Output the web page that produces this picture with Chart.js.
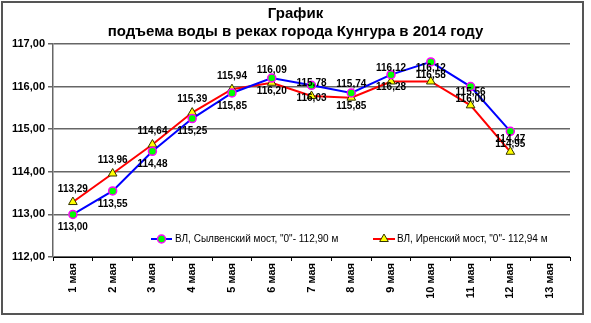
<!DOCTYPE html>
<html>
<head>
<meta charset="utf-8">
<script src="https://cdn.jsdelivr.net/npm/chart.js@4"></script>
<style>
  html, body { margin: 0; padding: 0; background: #fff; }
  canvas { display: block; }
</style>
</head>
<body>
<canvas id="water-chart" width="591" height="323"></canvas>
<script>
const days = ['1 мая', '2 мая', '3 мая', '4 мая', '5 мая', '6 мая', '7 мая',
              '8 мая', '9 мая', '10 мая', '11 мая', '12 мая', '13 мая'];
const sylvaLevels = [113.00, 113.55, 114.48, 115.25, 115.85, 116.20, 116.03,
                     115.85, 116.28, 116.58, 116.00, 114.95, null];
const irenLevels = [113.29, 113.96, 114.64, 115.39, 115.94, 116.09, 115.78,
                    115.74, 116.12, 116.12, 115.56, 114.47, null];
const sylvaName = 'ВЛ, Сылвенский мост, "0"- 112,90 м';
const irenName = 'ВЛ, Иренский мост, "0"- 112,94 м';
const titleLines = ['График', 'подъема воды в реках города Кунгура в 2014 году'];

const FONT = 'Arial, "Liberation Sans", sans-serif';
const fmt = v => v.toFixed(2).replace('.', ',');

// white background + grey frame around the whole chart
const framePlugin = {
    id: 'frame',
    beforeDraw(chart) {
        const ctx = chart.ctx;
        ctx.save();
        ctx.fillStyle = '#fff';
        ctx.fillRect(0, 0, chart.width, chart.height);
        ctx.strokeStyle = '#555';
        ctx.lineWidth = 2;
        ctx.strokeRect(2, 2, 581, 312);
        ctx.restore();
    }
};

// value labels: Irenskiy above its points, Sylvenskiy below
const valueLabels = {
    id: 'valueLabels',
    afterDatasetsDraw(chart) {
        const ctx = chart.ctx;
        ctx.save();
        ctx.font = 'bold 10px ' + FONT;
        ctx.fillStyle = '#000';
        ctx.textAlign = 'center';
        ctx.textBaseline = 'middle';
        chart.data.datasets.forEach((ds, di) => {
            const meta = chart.getDatasetMeta(di);
            const dy = di === 0 ? 13 : -13;
            meta.data.forEach((pt, i) => {
                const v = ds.data[i];
                if (v === null || v === undefined) return;
                ctx.fillText(fmt(v), pt.x, pt.y + dy);
            });
        });
        ctx.restore();
    }
};

// legend sitting inside the plot, near the bottom
const innerLegend = {
    id: 'innerLegend',
    afterDraw(chart) {
        const ctx = chart.ctx;
        const y = chart.chartArea.bottom - 18;
        const items = [
            { ds: chart.data.datasets[0], x0: 151, x1: 172, text: 175 },
            { ds: chart.data.datasets[1], x0: 373, x1: 395, text: 397 }
        ];
        ctx.save();
        items.forEach(it => {
            ctx.strokeStyle = it.ds.borderColor;
            ctx.lineWidth = it.ds.borderWidth;
            ctx.beginPath();
            ctx.moveTo(it.x0, y);
            ctx.lineTo(it.x1, y);
            ctx.stroke();
            ctx.fillStyle = it.ds.pointBackgroundColor;
            ctx.strokeStyle = it.ds.pointBorderColor;
            ctx.lineWidth = it.ds.pointBorderWidth;
            Chart.helpers.drawPoint(ctx, {
                pointStyle: it.ds.pointStyle,
                radius: it.ds.pointRadius,
                rotation: 0,
                borderWidth: it.ds.pointBorderWidth
            }, (it.x0 + it.x1) / 2, y);
            ctx.fillStyle = '#000';
            ctx.font = '10px ' + FONT;
            ctx.textAlign = 'left';
            ctx.textBaseline = 'middle';
            ctx.fillText(it.ds.label, it.text, y);
        });
        ctx.restore();
    }
};

const chart = new Chart(document.getElementById('water-chart'), {
    type: 'line',
    data: {
        labels: days,
        datasets: [
            {
                label: sylvaName,
                data: sylvaLevels,
                borderColor: '#0000ff',
                borderWidth: 2,
                pointStyle: 'circle',
                pointRadius: 4,
                pointBackgroundColor: '#00ff00',
                pointBorderColor: '#ff00ff',
                pointBorderWidth: 1.5,
                tension: 0,
                spanGaps: false
            },
            {
                label: irenName,
                data: irenLevels,
                borderColor: '#ff0000',
                borderWidth: 2,
                pointStyle: 'triangle',
                pointRadius: 5,
                pointBackgroundColor: '#ffff00',
                pointBorderColor: '#333300',
                pointBorderWidth: 1,
                tension: 0,
                spanGaps: false
            }
        ]
    },
    options: {
        responsive: false,
        devicePixelRatio: 1,
        animation: false,
        layout: { padding: { top: 0, left: 0, right: 0, bottom: 10 } },
        plugins: {
            legend: { display: false },
            tooltip: { enabled: false },
            title: {
                display: true,
                text: titleLines,
                color: '#000',
                font: { family: FONT, size: 15, weight: 'bold', lineHeight: 1.2 },
                padding: { top: 5, bottom: 3 }
            }
        },
        scales: {
            x: {
                offset: true,
                grid: {
                    offset: true,
                    drawOnChartArea: false,
                    drawTicks: true,
                    tickLength: 4,
                    color: '#000'
                },
                border: { display: true, color: '#000', width: 1 },
                ticks: {
                    minRotation: 90,
                    maxRotation: 90,
                    padding: 2,
                    color: '#000',
                    font: { family: FONT, size: 11, weight: 'bold' }
                },
                afterFit(scale) { scale.height = 56; }
            },
            y: {
                min: 112,
                max: 117,
                ticks: {
                    stepSize: 1,
                    padding: 3,
                    color: '#000',
                    font: { family: FONT, size: 11, weight: 'bold' },
                    callback: v => fmt(v)
                },
                grid: {
                    color: '#666',
                    lineWidth: 1.5,
                    tickLength: 5
                },
                border: { display: true, color: '#666', width: 1.5 },
                afterFit(scale) { scale.width = 53; }
            },
            // empty right-hand spacer so the plot stops short of the frame
            spacer: {
                type: 'linear',
                axis: 'y',
                position: 'right',
                display: true,
                grid: { display: false, drawTicks: false },
                ticks: { display: false },
                border: { display: false },
                afterFit(scale) { scale.width = 21; }
            }
        }
    },
    plugins: [framePlugin, valueLabels, innerLegend]
});
</script>
</body>
</html>
